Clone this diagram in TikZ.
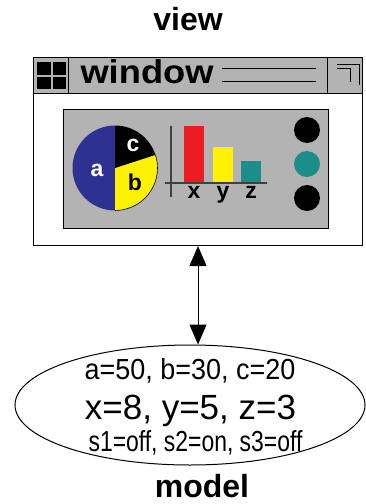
\documentclass[tikz,border=0pt]{standalone}
\usepackage{graphicx}
\usepackage{fontspec}
\setsansfont{Liberation Sans}
\usetikzlibrary{arrows.meta, shapes.geometric, positioning}
\definecolor{panelgray}{HTML}{B3B3B3}
\definecolor{pieblue}{HTML}{2E3192}
\definecolor{pieyellow}{HTML}{FFF200}
\definecolor{barred}{HTML}{ED1C24}
\definecolor{barteal}{HTML}{1B8E8A}
\newcommand{\squeeze}[2]{\scalebox{#1}[1]{#2}}
\tikzset{
		x=1pt, y=1pt,
		caption/.style={font=\sffamily\bfseries\fontsize{32}{32}\selectfont, inner sep=0pt, anchor=base},
		panel/.style={draw, fill=panelgray},
		slice/.style={font=\sffamily\bfseries\fontsize{23}{23}\selectfont, inner sep=0pt},
		axislabel/.style={font=\sffamily\bfseries\fontsize{23}{23}\selectfont, inner sep=0pt, anchor=base},
		knob/.style={circle, fill=black, minimum size=26pt, inner sep=0pt},
		value/.style={inner sep=0pt, anchor=base, font=\sffamily}
	}

\begin{document}
\begin{tikzpicture}[>={Triangle[length=20pt,width=17pt]}, line width=1pt]
		\useasboundingbox (0,0) rectangle (366,-504);
		\node[caption] (viewlabel) at (188,-30) {view};

		% the window with its title bar
		\node[draw, fill=white, minimum width=329pt, minimum height=188pt, inner sep=0pt, anchor=north west] (window) at (33,-57) {};
		\draw[panel] (33,-57) rectangle (362,-93);
		\draw[panel] (33,-57) rectangle (68,-93);
		\draw[panel] (327,-57) rectangle (362,-93);
		\foreach \i/\j in {37/62, 52.5/62, 37/76.5, 52.5/76.5}
			\fill (\i,-\j) rectangle ++(13.5,-12.5);
		\node[font=\sffamily\bfseries\fontsize{33}{33}\selectfont, inner sep=0pt, anchor=base west] (wintitle) at (80,-83) {\squeeze{1.1}{window}};
		\draw (222,-68) -- (316,-68);
		\draw (222,-81) -- (316,-81);
		\draw (337,-64) -- (359,-64) -- (359,-85);
		\draw (337,-68) -- (350,-68) -- (350,-82);

		% contents
		\draw[panel] (63,-109) rectangle (328,-228);
		\coordinate (pie) at (115,-168);
		\fill[pieblue] (pie) -- ++(90:42.5) arc[start angle=90, end angle=270, radius=42.5] -- cycle;
		\fill[pieyellow] (pie) -- ++(-90:42.5) arc[start angle=-90, end angle=18, radius=42.5] -- cycle;
		\fill[black] (pie) -- ++(18:42.5) arc[start angle=18, end angle=90, radius=42.5] -- cycle;
		\draw[line width=0.6pt] ([shift={(-90:42.5)}]pie) arc[start angle=-90, end angle=18, radius=42.5];
		\node[slice, text=white] (sa) at (97,-170) {a};
		\node[slice]             (sb) at (135,-182) {b};
		\node[slice, text=white] (sc) at (133,-145) {c};

		\fill[barred]    (184,-126) rectangle (204,-183);
		\fill[pieyellow] (213,-147) rectangle (233,-183);
		\fill[barteal]   (241,-161) rectangle (261,-183);
		\draw[line width=1.3pt, black!75] (171,-126) -- (171,-197);
		\draw[line width=1.3pt, black!75] (165,-183) -- (267,-183);
		\node[axislabel] (bx) at (194,-198) {x};
		\node[axislabel] (by) at (223,-198) {y};
		\node[axislabel] (bz) at (251,-198) {z};

		\node[knob]              (k1) at (307,-130) {};
		\node[knob, fill=barteal] (k2) at (307,-164) {};
		\node[knob]              (k3) at (307,-198) {};

		% the model
		\node[ellipse, draw, minimum width=350pt, minimum height=120pt] (model) at (190,-405) {};
		\node[value] (pievals) at (190,-379) {\fontsize{29}{29}\selectfont\squeeze{0.93}{a=50, b=30, c=20}};
		\node[value] (barvals) at (190.5,-419) {\fontsize{35}{35}\selectfont x=8, y=5, z=3};
		\node[value] (knobvals) at (195.5,-451) {\fontsize{29}{29}\selectfont\squeeze{0.79}{s1=off, s2=on, s3=off}};
		\node[caption] (modellabel) at (202,-497) {model};

		\draw[<->] (window.south) -- (window.south |- model.north);
	\end{tikzpicture}
\end{document}
